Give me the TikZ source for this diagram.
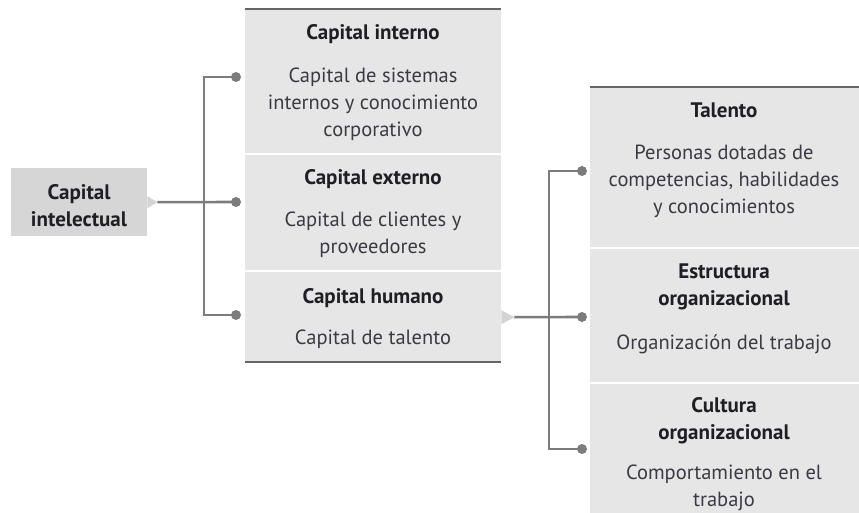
\documentclass[tikz,border=0pt]{standalone}
\usepackage{fontspec}
\setmainfont{PT Sans}
\usepackage{tikz}
\usetikzlibrary{positioning}
\usepackage{xcolor}

\definecolor{boxgray}{HTML}{E6E6E6}
\definecolor{capgray}{HTML}{D6D6D6}
\definecolor{ptrgray}{HTML}{D4D4D4}
\definecolor{linegray}{HTML}{7C7C7C}
\definecolor{rulegray}{HTML}{666666}
\definecolor{ttlcol}{HTML}{1E1E26}
\definecolor{bodycol}{HTML}{3A3A46}

\tikzset{
	sect/.style={rectangle, fill=boxgray, inner sep=0pt, anchor=north west},
	ttl/.style={font=\bfseries\fontsize{21}{27}\selectfont, text=ttlcol, align=center, inner sep=0pt},
	body/.style={font=\fontsize{20.5}{27}\selectfont, text=bodycol, align=center, inner sep=0pt},
	dot/.style={circle, fill=linegray, inner sep=0pt, minimum size=10pt},
	link/.style={draw=linegray, line width=2.6pt},
	rule/.style={draw=rulegray, line width=2pt},
}

\begin{document}
\begin{tikzpicture}[x=1pt, y=-1pt]
	\useasboundingbox (0,0) rectangle (859,513);
	% Define nodes
	\node[sect, fill=capgray, minimum width=136pt, minimum height=68pt] (cap) at (11,168) {};
	\node[ttl] (cap-t) at (79,206) {Capital\\intelectual};

	\node[sect, minimum width=256pt, minimum height=144pt] (ci) at (245,9) {};
	\node[sect, minimum width=256pt, minimum height=115pt] (ce) at (245,155) {};
	\node[sect, minimum width=256pt, minimum height=90pt]  (ch) at (245,272) {};
	\node[sect, minimum width=269pt, minimum height=160pt] (ta) at (590,87) {};
	\node[sect, minimum width=269pt, minimum height=133pt] (eo) at (590,249) {};
	\node[sect, minimum width=269pt, minimum height=129pt] (co) at (590,384) {};

	\node[ttl]  (ci-t) at (373,34)  {Capital interno};
	\node[body] (ci-b) at (373,104) {Capital de sistemas\\internos y conocimiento\\corporativo};
	\node[ttl]  (ce-t) at (373,179) {Capital externo};
	\node[body] (ce-b) at (373,235) {Capital de clientes y\\proveedores};
	\node[ttl]  (ch-t) at (373,298) {Capital humano};
	\node[body] (ch-b) at (373,339) {Capital de talento};

	\node[ttl]  (ta-t) at (724,110) {Talento};
	\node[body] (ta-b) at (724,181) {Personas dotadas de\\competencias, habilidades\\y conocimientos};
	\node[ttl]  (eo-t) at (724,287) {Estructura\\organizacional};
	\node[body] (eo-b) at (724,344) {Organización del trabajo};
	\node[ttl]  (co-t) at (724,421) {Cultura\\organizacional};
	\node[body] (co-b) at (724,488) {Comportamiento en el\\trabajo};

	% Rules
	\draw[rule] (ci.north west) -- (ci.north east);
	\draw[rule] (ch.south west) -- (ch.south east);
	\draw[rule] (ta.north west) -- (ta.north east);

	% Pointers
	\coordinate (cap-tip) at ([xshift=10pt]cap.east);
	\coordinate (ch-tip)  at ([xshift=13pt]ch.east);
	\fill[ptrgray] ([yshift=6pt]cap.east) -- (cap-tip) -- ([yshift=-6pt]cap.east) -- cycle;
	\fill[ptrgray] ([yshift=7pt]ch.east) -- (ch-tip) -- ([yshift=-7pt]ch.east) -- cycle;

	% Connectors
	\node[dot] (d-ci) at (236,77)  {};
	\node[dot] (d-ce) at (236,202) {};
	\node[dot] (d-ch) at (236,315) {};
	\coordinate (trunk-l) at (204,202);
	\draw[link] (d-ci.center) -| (trunk-l) |- (d-ch.center);
	\draw[link] (cap-tip) -- (d-ce.center);

	\node[dot] (d-ta) at (582,171) {};
	\node[dot] (d-eo) at (582,317) {};
	\node[dot] (d-co) at (582,449) {};
	\coordinate (trunk-r) at (549,317);
	\draw[link] (d-ta.center) -| (trunk-r) |- (d-co.center);
	\draw[link] (ch-tip) -- (d-eo.center);
\end{tikzpicture}
\end{document}
